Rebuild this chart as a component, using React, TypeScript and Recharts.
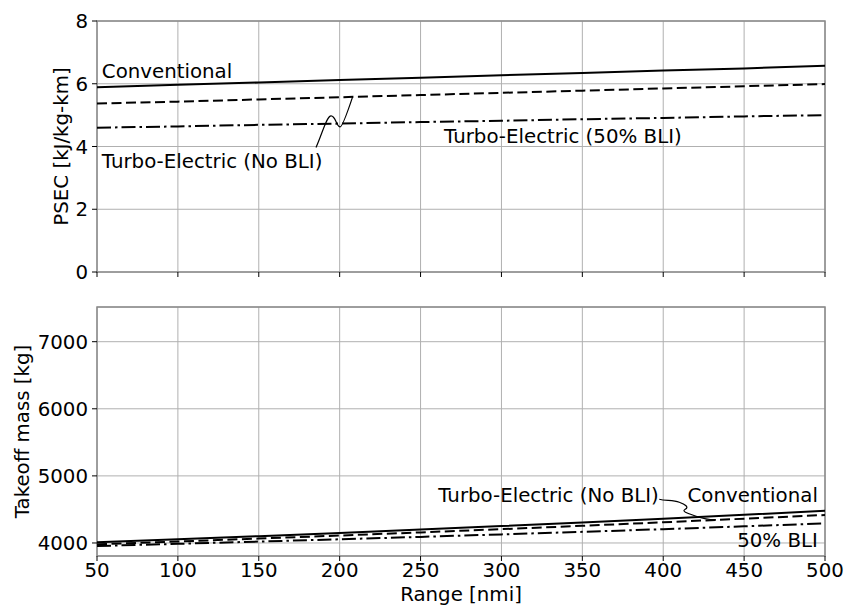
import React from "react";
import { LineChart, Line, XAxis, YAxis, CartesianGrid, ReferenceArea, ReferenceDot } from "recharts";

// range sweep, nmi
const ranges = [50, 100, 150, 200, 250, 300, 350, 400, 450, 500];

// PSEC [kJ/kg-km]
const psecConventional = [5.89, 5.97, 6.04, 6.12, 6.19, 6.27, 6.34, 6.42, 6.49, 6.57];
const psecNoBli = [5.37, 5.43, 5.5, 5.57, 5.64, 5.71, 5.78, 5.85, 5.92, 5.99];
const psecBli50 = [4.6, 4.64, 4.69, 4.73, 4.78, 4.82, 4.87, 4.91, 4.96, 5.0];

// takeoff mass [kg]
const massConventional = [4010, 4055, 4102, 4150, 4200, 4252, 4305, 4362, 4420, 4481];
const massNoBli = [3980, 4022, 4066, 4111, 4158, 4206, 4256, 4308, 4362, 4417];
const massBli50 = [3955, 3987, 4021, 4055, 4091, 4128, 4166, 4206, 4248, 4293];

const rangeTicks = [50, 100, 150, 200, 250, 300, 350, 400, 450, 500];
const psecTicks = [0, 2, 4, 6, 8];
const massTicks = [4000, 5000, 6000, 7000];

const FONT = "DejaVu Sans";
const FS = 19.8;
const tickStyle = { fontFamily: FONT, fontSize: FS, fill: "#000" };
const DASH = "10 4.5";
const DASHDOT = "14 4 2.5 4";

const psecData = ranges.map((r, i) => ({
  range: r,
  conv: psecConventional[i],
  noBli: psecNoBli[i],
  bli50: psecBli50[i],
}));
const massData = ranges.map((r, i) => ({
  range: r,
  conv: massConventional[i],
  noBli: massNoBli[i],
  bli50: massBli50[i],
}));

// linear lookup on a series, used to pin arrow tips onto a curve
function at(ys: number[], x: number) {
  for (let i = 0; i < ranges.length - 1; i++) {
    if (x <= ranges[i + 1]) {
      const t = (x - ranges[i]) / (ranges[i + 1] - ranges[i]);
      return ys[i] + t * (ys[i + 1] - ys[i]);
    }
  }
  return ys[ys.length - 1];
}

const textShape = (value: string, anchor: "start" | "middle" | "end") => (p: any) => (
  <text x={p.cx} y={p.cy} textAnchor={anchor} fontFamily={FONT} fontSize={FS} fill="#000">
    {value}
  </text>
);

const curveShape = (d: string) => (p: any) => (
  <path d={d} transform={`translate(${p.cx},${p.cy})`} fill="none" stroke="#000" strokeWidth={1.2} />
);

const TOP_ARROW = "M -36.6 50.6 C -30 36, -26 19, -21.5 19 C -17 19, -16 30, -12.5 30 C -10 30, -4 12, 0 0";
const BOTTOM_ARROW =
  "M -56.7 -20.7 C -50.7 -19.2, -42.7 -19.7, -36.7 -17.7 C -30.7 -15.7, -26.7 -12.7, -30.7 -10.7 C -34.7 -8.7, -28.7 -6.7, -22.7 -4.7 C -14.7 -1.7, -6.7 -0.2, 0 0";

const yLabel = (value: string, offset: number) => ({
  value,
  angle: -90,
  position: "insideLeft" as const,
  offset,
  style: { textAnchor: "middle", fontFamily: FONT, fontSize: FS, fill: "#000" },
});

export default function App() {
  return (
    <div style={{ position: "absolute", left: 0, top: 0, width: 847, height: 605, background: "#fff" }}>
      <LineChart width={847} height={290} data={psecData} margin={{ top: 21, right: 22, bottom: 0, left: 0 }}>
        <CartesianGrid stroke="#b0b0b0" strokeWidth={1} />
        <XAxis
          dataKey="range"
          type="number"
          domain={[50, 500]}
          ticks={rangeTicks}
          height={18}
          axisLine={false}
          tickLine={{ stroke: "#000" }}
          tickSize={5}
          tickFormatter={() => ""}
        />
        <YAxis
          type="number"
          domain={[0, 8]}
          ticks={psecTicks}
          width={97}
          axisLine={false}
          tickLine={{ stroke: "#000" }}
          tickSize={5}
          tickMargin={4}
          tick={tickStyle}
          label={yLabel("PSEC [kJ/kg-km]", 61)}
        />
        <ReferenceArea x1={50} x2={500} y1={0} y2={8} fill="none" fillOpacity={0} stroke="#8a8a8a" strokeWidth={1.5} />
        <Line dataKey="conv" type="linear" stroke="#000" strokeWidth={2} dot={false} isAnimationActive={false} />
        <Line dataKey="noBli" type="linear" stroke="#000" strokeWidth={2} strokeDasharray={DASH} dot={false} isAnimationActive={false} />
        <Line dataKey="bli50" type="linear" stroke="#000" strokeWidth={2} strokeDasharray={DASHDOT} dot={false} isAnimationActive={false} />
        <ReferenceDot x={53} y={6.17} r={0} shape={textShape("Conventional", "start")} />
        <ReferenceDot x={53} y={3.3} r={0} shape={textShape("Turbo-Electric (No BLI)", "start")} />
        <ReferenceDot x={208} y={at(psecNoBli, 208)} r={0} shape={curveShape(TOP_ARROW)} />
        <ReferenceDot x={338} y={4.12} r={0} shape={textShape("Turbo-Electric (50% BLI)", "middle")} />
      </LineChart>
      <LineChart width={847} height={315} data={massData} margin={{ top: 17, right: 22, bottom: 0, left: 0 }}>
        <CartesianGrid stroke="#b0b0b0" strokeWidth={1} />
        <XAxis
          dataKey="range"
          type="number"
          domain={[50, 500]}
          ticks={rangeTicks}
          height={49}
          axisLine={false}
          tickLine={{ stroke: "#000" }}
          tickSize={5}
          tickMargin={2}
          tick={tickStyle}
          label={{
            value: "Range [nmi]",
            position: "insideBottom",
            offset: 4.5,
            style: { fontFamily: FONT, fontSize: FS, fill: "#000" },
          }}
        />
        <YAxis
          type="number"
          domain={[3806, 7517]}
          allowDataOverflow
          ticks={massTicks}
          width={97}
          axisLine={false}
          tickLine={{ stroke: "#000" }}
          tickSize={5}
          tickMargin={4}
          tick={tickStyle}
          label={yLabel("Takeoff mass [kg]", 22)}
        />
        <ReferenceArea x1={50} x2={500} y1={3806} y2={7517} fill="none" fillOpacity={0} stroke="#8a8a8a" strokeWidth={1.5} />
        <Line dataKey="conv" type="linear" stroke="#000" strokeWidth={2} dot={false} isAnimationActive={false} />
        <Line dataKey="noBli" type="linear" stroke="#000" strokeWidth={2} strokeDasharray={DASH} dot={false} isAnimationActive={false} />
        <Line dataKey="bli50" type="linear" stroke="#000" strokeWidth={2} strokeDasharray={DASHDOT} dot={false} isAnimationActive={false} />
        <ReferenceDot x={397.3} y={4610} r={0} shape={textShape("Turbo-Electric (No BLI)", "end")} />
        <ReferenceDot x={495.6} y={4610} r={0} shape={textShape("Conventional", "end")} />
        <ReferenceDot x={495.6} y={3936} r={0} shape={textShape("50% BLI", "end")} />
        <ReferenceDot x={432.6} y={at(massNoBli, 432.6)} r={0} shape={curveShape(BOTTOM_ARROW)} />
      </LineChart>
    </div>
  );
}
